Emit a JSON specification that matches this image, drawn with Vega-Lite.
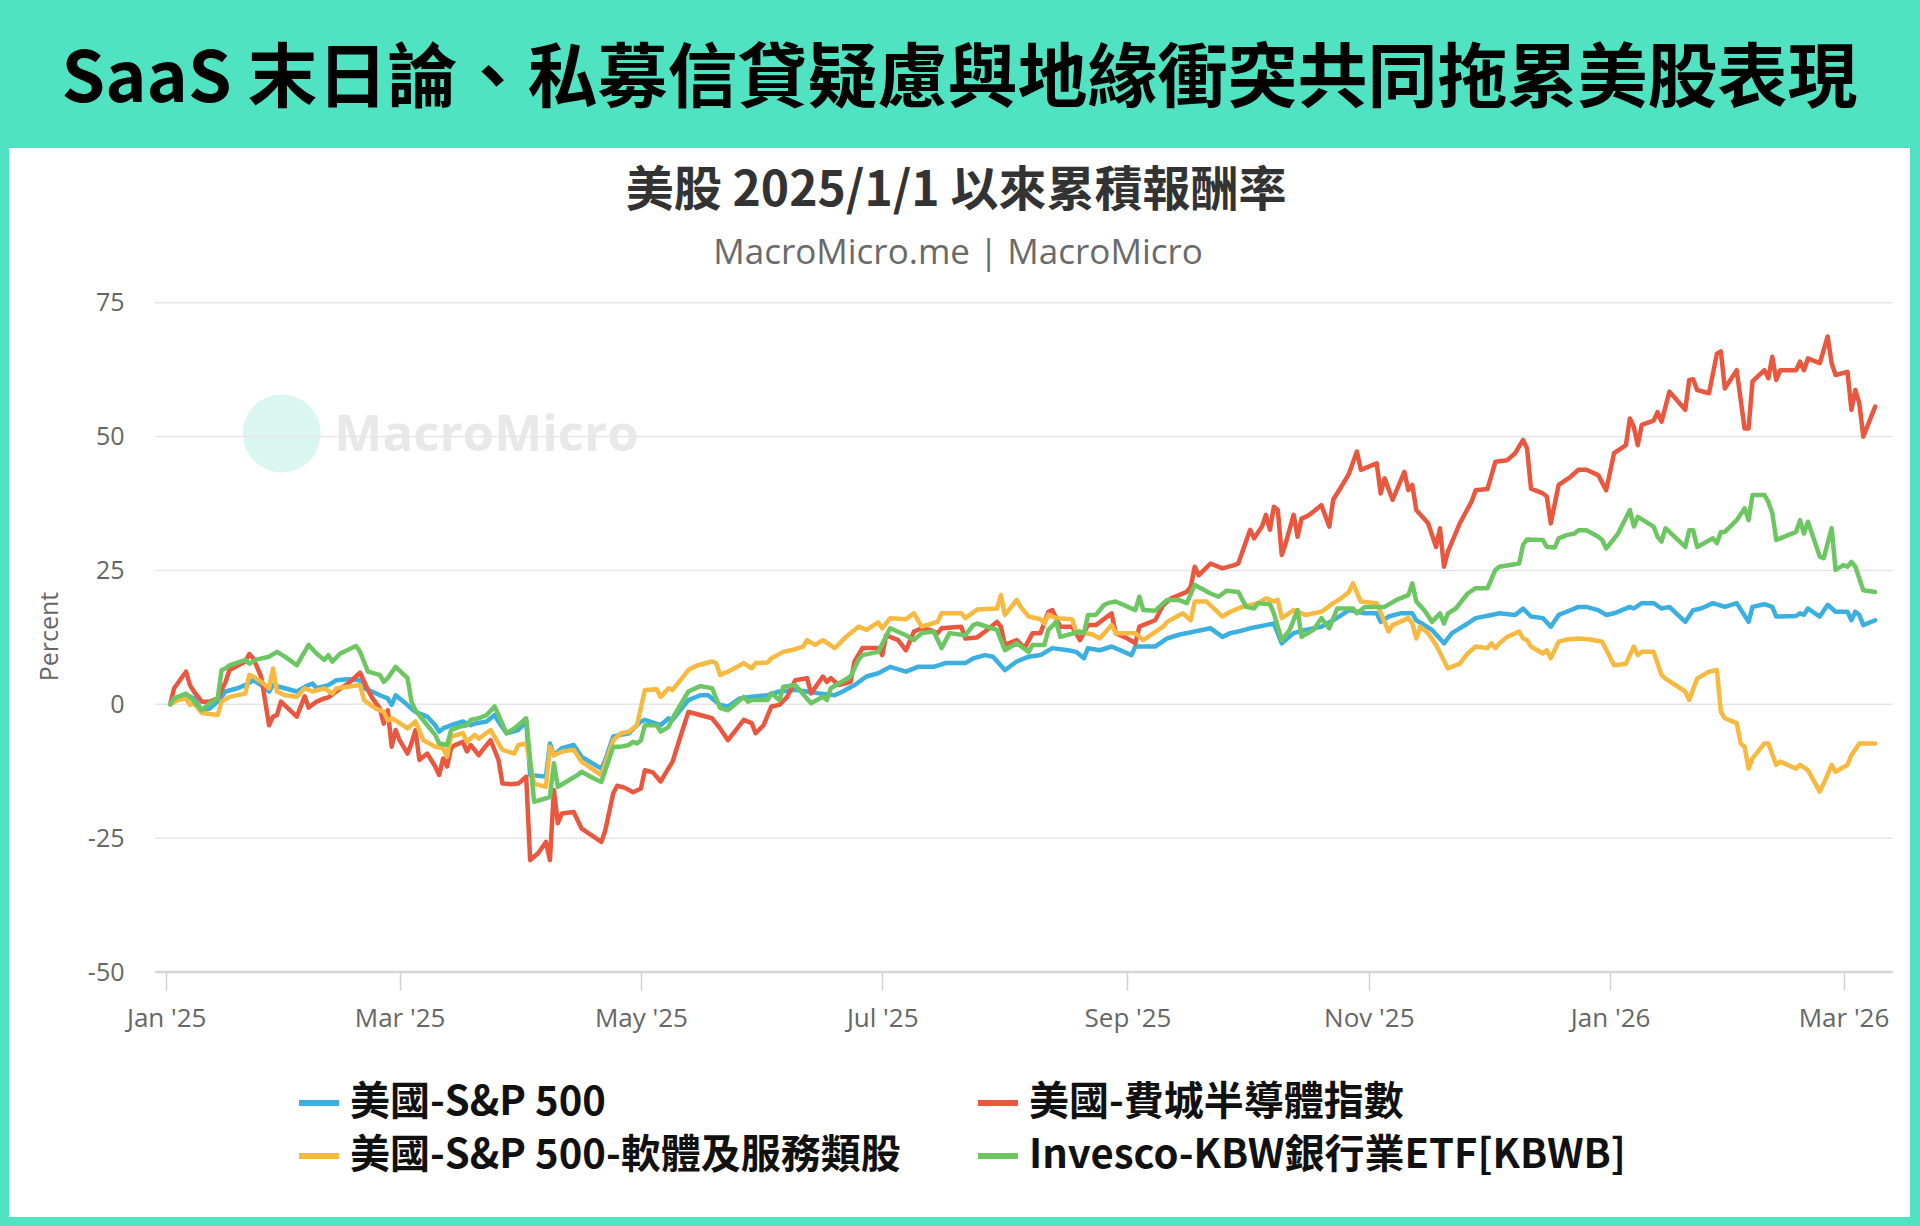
{
"$schema": "https://vega.github.io/schema/vega-lite/v6.json",
"width": 1901,
"height": 1069,
"autosize": {"type": "none"},
"padding": {"left": 9, "right": 10, "top": 148, "bottom": 9},
"background": "#50E3C2",
"title": {"text": "SaaS 末日論、私募信貸疑慮與地緣衝突共同拖累美股表現", "font": "Noto Sans CJK TC", "fontSize": 70, "fontWeight": "bold", "color": "#000000", "anchor": "middle", "frame": "group", "offset": 68, "dy": 71, "baseline": "middle"},
"config": {"view": {"fill": "#ffffff", "stroke": null}, "font": "Open Sans"},
"layer": [
{"data": {"values": [{"k": "logo"}]},
 "mark": {"type": "point", "shape": "circle", "filled": true, "size": 6084, "color": "#D9F7F0", "opacity": 1},
 "encoding": {
  "x": {"datum": {"year": 2025, "month": 1, "date": 30, "hours": 5, "utc": true}, "type": "temporal", "scale": {"type": "utc", "domain": [{"year": 2024, "month": 11, "date": 22, "hours": 6, "minutes": 14, "utc": true}, {"year": 2026, "month": 3, "date": 17, "hours": 19, "minutes": 26, "utc": true}], "nice": false}},
  "y": {"datum": 50.6, "type": "quantitative", "scale": {"domain": [-95.74, 103.9], "nice": false, "zero": false}}
 }},
{"data": {"values": [{"t": "MacroMicro"}]},
 "mark": {"type": "text", "align": "left", "baseline": "middle", "font": "Open Sans", "fontSize": 51, "fontWeight": "bold", "color": "#E8E8E8"},
 "encoding": {
  "x": {"datum": {"year": 2025, "month": 2, "date": 12, "hours": 12, "utc": true}, "type": "temporal", "scale": {"type": "utc", "domain": [{"year": 2024, "month": 11, "date": 22, "hours": 6, "minutes": 14, "utc": true}, {"year": 2026, "month": 3, "date": 17, "hours": 19, "minutes": 26, "utc": true}], "nice": false}},
  "y": {"datum": 50.1, "type": "quantitative", "scale": {"domain": [-95.74, 103.9], "nice": false, "zero": false}},
  "text": {"field": "t"}
 }},
{"data": {"values": [{"g": 75}, {"g": 50}, {"g": 25}, {"g": 0}, {"g": -25}]},
 "mark": {"type": "rule", "color": "#E6E6E6", "strokeWidth": 1.5},
 "encoding": {
  "y": {"field": "g", "type": "quantitative", "scale": {"domain": [-95.74, 103.9], "nice": false, "zero": false}},
  "x": {"datum": {"year": 2024, "month": 12, "date": 29, "hours": 4, "utc": true}, "type": "temporal", "scale": {"type": "utc", "domain": [{"year": 2024, "month": 11, "date": 22, "hours": 6, "minutes": 14, "utc": true}, {"year": 2026, "month": 3, "date": 17, "hours": 19, "minutes": 26, "utc": true}], "nice": false}},
  "x2": {"datum": {"year": 2026, "month": 3, "date": 13, "hours": 12, "utc": true}}
 }},
{"data": {"values": [{"g": -50}]},
 "mark": {"type": "rule", "color": "#D6D6D6", "strokeWidth": 2.5},
 "encoding": {
  "y": {"field": "g", "type": "quantitative", "scale": {"domain": [-95.74, 103.9], "nice": false, "zero": false}},
  "x": {"datum": {"year": 2024, "month": 12, "date": 29, "hours": 4, "utc": true}, "type": "temporal", "scale": {"type": "utc", "domain": [{"year": 2024, "month": 11, "date": 22, "hours": 6, "minutes": 14, "utc": true}, {"year": 2026, "month": 3, "date": 17, "hours": 19, "minutes": 26, "utc": true}], "nice": false}},
  "x2": {"datum": {"year": 2026, "month": 3, "date": 13, "hours": 12, "utc": true}}
 }},
{"data": {"values": [
{"d":"2025-01-02","v":0},{"d":"2025-01-03","v":0.8},{"d":"2025-01-06","v":1.7},{"d":"2025-01-08","v":1.1},{"d":"2025-01-10","v":-1.1},{"d":"2025-01-12","v":-0.8},{"d":"2025-01-14","v":0.5},{"d":"2025-01-16","v":2.4},{"d":"2025-01-19","v":3.0},{"d":"2025-01-21","v":3.6},{"d":"2025-01-23","v":4.5},{"d":"2025-01-25","v":3.6},{"d":"2025-01-27","v":2.4},{"d":"2025-01-28","v":3.6},{"d":"2025-01-31","v":3.0},{"d":"2025-02-03","v":2.4},{"d":"2025-02-06","v":3.6},{"d":"2025-02-07","v":3.9},{"d":"2025-02-08","v":3.0},{"d":"2025-02-11","v":3.6},{"d":"2025-02-13","v":4.5},{"d":"2025-02-16","v":4.7},{"d":"2025-02-19","v":4.5},{"d":"2025-02-20","v":3.0},{"d":"2025-02-22","v":2.4},{"d":"2025-02-24","v":1.7},{"d":"2025-02-26","v":1.1},{"d":"2025-02-27","v":-0.1},{"d":"2025-02-28","v":1.7},{"d":"2025-03-02","v":0.5},{"d":"2025-03-04","v":-0.8},{"d":"2025-03-05","v":-1.4},{"d":"2025-03-08","v":-2.3},{"d":"2025-03-10","v":-3.9},{"d":"2025-03-11","v":-5.1},{"d":"2025-03-12","v":-4.5},{"d":"2025-03-14","v":-3.9},{"d":"2025-03-17","v":-3.2},{"d":"2025-03-19","v":-3.9},{"d":"2025-03-20","v":-3.6},{"d":"2025-03-23","v":-3.2},{"d":"2025-03-25","v":-2.0},{"d":"2025-03-26","v":-3.2},{"d":"2025-03-28","v":-5.4},{"d":"2025-03-31","v":-4.8},{"d":"2025-04-02","v":-3.2},{"d":"2025-04-03","v":-13.2},{"d":"2025-04-07","v":-13.5},{"d":"2025-04-08","v":-7.3},{"d":"2025-04-09","v":-9.5},{"d":"2025-04-11","v":-8.2},{"d":"2025-04-14","v":-7.6},{"d":"2025-04-16","v":-9.8},{"d":"2025-04-21","v":-12.0},{"d":"2025-04-22","v":-10.4},{"d":"2025-04-24","v":-6.0},{"d":"2025-04-26","v":-5.7},{"d":"2025-04-28","v":-5.4},{"d":"2025-05-01","v":-3.2},{"d":"2025-05-02","v":-2.9},{"d":"2025-05-06","v":-3.9},{"d":"2025-05-08","v":-2.6},{"d":"2025-05-09","v":-2.9},{"d":"2025-05-13","v":0.8},{"d":"2025-05-16","v":1.7},{"d":"2025-05-18","v":1.7},{"d":"2025-05-21","v":-0.1},{"d":"2025-05-23","v":-0.4},{"d":"2025-05-26","v":1.1},{"d":"2025-05-29","v":1.4},{"d":"2025-06-02","v":1.7},{"d":"2025-06-05","v":2.4},{"d":"2025-06-09","v":2.7},{"d":"2025-06-12","v":2.4},{"d":"2025-06-15","v":2.05},{"d":"2025-06-19","v":1.7},{"d":"2025-06-21","v":2.4},{"d":"2025-06-24","v":3.6},{"d":"2025-06-27","v":5.2},{"d":"2025-06-30","v":5.8},{"d":"2025-07-03","v":7.0},{"d":"2025-07-07","v":6.1},{"d":"2025-07-10","v":7.0},{"d":"2025-07-14","v":7.0},{"d":"2025-07-17","v":7.7},{"d":"2025-07-22","v":7.7},{"d":"2025-07-24","v":8.6},{"d":"2025-07-27","v":9.2},{"d":"2025-07-29","v":8.9},{"d":"2025-08-01","v":6.4},{"d":"2025-08-04","v":8.0},{"d":"2025-08-07","v":8.9},{"d":"2025-08-10","v":9.2},{"d":"2025-08-13","v":10.5},{"d":"2025-08-17","v":10.1},{"d":"2025-08-19","v":9.8},{"d":"2025-08-21","v":8.6},{"d":"2025-08-22","v":10.5},{"d":"2025-08-25","v":10.1},{"d":"2025-08-28","v":10.8},{"d":"2025-09-02","v":9.2},{"d":"2025-09-03","v":10.8},{"d":"2025-09-08","v":10.8},{"d":"2025-09-11","v":12.3},{"d":"2025-09-14","v":13.0},{"d":"2025-09-18","v":13.6},{"d":"2025-09-22","v":14.2},{"d":"2025-09-25","v":12.6},{"d":"2025-09-27","v":13.3},{"d":"2025-09-29","v":13.6},{"d":"2025-10-02","v":14.2},{"d":"2025-10-06","v":14.8},{"d":"2025-10-08","v":15.1},{"d":"2025-10-10","v":11.4},{"d":"2025-10-13","v":13.3},{"d":"2025-10-16","v":13.9},{"d":"2025-10-20","v":14.5},{"d":"2025-10-23","v":15.7},{"d":"2025-10-27","v":17.6},{"d":"2025-10-31","v":17.0},{"d":"2025-11-03","v":17.0},{"d":"2025-11-04","v":15.4},{"d":"2025-11-06","v":16.4},{"d":"2025-11-09","v":17.0},{"d":"2025-11-12","v":17.0},{"d":"2025-11-13","v":15.7},{"d":"2025-11-17","v":13.9},{"d":"2025-11-20","v":11.4},{"d":"2025-11-22","v":13.3},{"d":"2025-11-26","v":15.1},{"d":"2025-11-28","v":16.1},{"d":"2025-12-02","v":16.7},{"d":"2025-12-04","v":17.0},{"d":"2025-12-08","v":16.7},{"d":"2025-12-10","v":17.9},{"d":"2025-12-12","v":16.4},{"d":"2025-12-15","v":16.1},{"d":"2025-12-17","v":14.5},{"d":"2025-12-19","v":16.7},{"d":"2025-12-21","v":17.3},{"d":"2025-12-24","v":18.2},{"d":"2025-12-26","v":18.2},{"d":"2025-12-29","v":17.6},{"d":"2025-12-31","v":16.7},{"d":"2026-01-02","v":17.0},{"d":"2026-01-06","v":18.2},{"d":"2026-01-07","v":17.9},{"d":"2026-01-09","v":18.9},{"d":"2026-01-12","v":18.9},{"d":"2026-01-14","v":17.9},{"d":"2026-01-16","v":18.2},{"d":"2026-01-20","v":15.4},{"d":"2026-01-22","v":17.6},{"d":"2026-01-24","v":17.9},{"d":"2026-01-27","v":18.9},{"d":"2026-01-30","v":18.2},{"d":"2026-02-02","v":18.9},{"d":"2026-02-05","v":15.4},{"d":"2026-02-06","v":18.2},{"d":"2026-02-09","v":18.7},{"d":"2026-02-11","v":18.2},{"d":"2026-02-12","v":16.4},{"d":"2026-02-17","v":16.5},{"d":"2026-02-18","v":17.0},{"d":"2026-02-19","v":16.7},{"d":"2026-02-20","v":17.9},{"d":"2026-02-23","v":16.4},{"d":"2026-02-25","v":18.6},{"d":"2026-02-27","v":17.3},{"d":"2026-03-02","v":17.3},{"d":"2026-03-03","v":15.7},{"d":"2026-03-04","v":17.3},{"d":"2026-03-05","v":16.7},{"d":"2026-03-06","v":14.8},{"d":"2026-03-09","v":15.7}
 ]},
 "mark": {"type": "line", "strokeWidth": 4.5, "strokeJoin": "round", "strokeCap": "round"},
 "encoding": {
  "x": {"field": "d", "type": "temporal", "scale": {"type": "utc", "domain": [{"year": 2024, "month": 11, "date": 22, "hours": 6, "minutes": 14, "utc": true}, {"year": 2026, "month": 3, "date": 17, "hours": 19, "minutes": 26, "utc": true}], "nice": false},
   "axis": {"orient": "bottom", "offset": -245, "values": [{"year": 2025, "month": 1, "date": 1, "utc": true}, {"year": 2025, "month": 3, "date": 1, "utc": true}, {"year": 2025, "month": 5, "date": 1, "utc": true}, {"year": 2025, "month": 7, "date": 1, "utc": true}, {"year": 2025, "month": 9, "date": 1, "utc": true}, {"year": 2025, "month": 11, "date": 1, "utc": true}, {"year": 2026, "month": 1, "date": 1, "utc": true}, {"year": 2026, "month": 3, "date": 1, "utc": true}], "format": "%b '%y", "grid": false, "domain": false, "ticks": true, "tickSize": 18, "tickColor": "#D0D0D0", "tickWidth": 1.5, "labelPadding": 15, "labelFont": "Open Sans", "labelFontSize": 26, "labelColor": "#666666", "labelFlush": false, "labelOverlap": false, "title": null}},
  "y": {"field": "v", "type": "quantitative", "scale": {"domain": [-95.74, 103.9], "nice": false, "zero": false},
   "axis": {"orient": "left", "offset": -146, "values": [-50, -25, 0, 25, 50, 75], "labelExpr": "'' + datum.value", "grid": false, "domain": false, "ticks": false, "labelPadding": 31, "labelFont": "Open Sans", "labelFontSize": 25, "labelColor": "#666666", "title": "Percent", "titleFont": "Open Sans", "titleFontSize": 25, "titleFontWeight": "normal", "titleColor": "#666666", "titleX": -106, "titleY": 488, "titleAlign": "center", "titleBaseline": "middle", "titleAngle": 270}},
  "color": {"datum": "美國-S&P 500", "type": "nominal",
   "scale": {"domain": ["美國-S&P 500", "美國-費城半導體指數", "美國-S&P 500-軟體及服務類股", "Invesco-KBW銀行業ETF[KBWB]"], "range": ["#3BAFDF", "#E9573F", "#F7B93F", "#6CC763"]},
   "legend": {"orient": "none", "legendX": 287, "legendY": 932, "title": null, "columns": 2, "direction": "horizontal", "symbolType": "stroke", "symbolSize": 1600, "symbolStrokeWidth": 6, "labelFont": "Noto Sans CJK TC", "labelFontSize": 40, "labelFontWeight": "bold", "labelColor": "#111111", "labelOffset": 8, "columnPadding": 66, "rowPadding": 10, "padding": 0, "labelLimit": 900}}
 }},
{"data": {"values": [
{"d":"2025-01-02","v":0},{"d":"2025-01-03","v":3.0},{"d":"2025-01-06","v":6.1},{"d":"2025-01-07","v":3.6},{"d":"2025-01-08","v":2.4},{"d":"2025-01-10","v":0.5},{"d":"2025-01-12","v":0.5},{"d":"2025-01-14","v":1.1},{"d":"2025-01-16","v":4.2},{"d":"2025-01-17","v":6.4},{"d":"2025-01-21","v":8.0},{"d":"2025-01-22","v":9.4},{"d":"2025-01-23","v":8.6},{"d":"2025-01-25","v":5.2},{"d":"2025-01-27","v":-3.9},{"d":"2025-01-28","v":-2.3},{"d":"2025-01-29","v":-2.0},{"d":"2025-01-30","v":0.5},{"d":"2025-02-03","v":-2.3},{"d":"2025-02-05","v":1.5},{"d":"2025-02-06","v":-0.6},{"d":"2025-02-08","v":0.5},{"d":"2025-02-10","v":1.1},{"d":"2025-02-11","v":1.3},{"d":"2025-02-13","v":2.4},{"d":"2025-02-16","v":3.9},{"d":"2025-02-19","v":5.9},{"d":"2025-02-21","v":2.7},{"d":"2025-02-22","v":1.3},{"d":"2025-02-24","v":-0.8},{"d":"2025-02-25","v":-3.6},{"d":"2025-02-26","v":-1.1},{"d":"2025-02-27","v":-7.9},{"d":"2025-02-28","v":-4.8},{"d":"2025-03-01","v":-6.7},{"d":"2025-03-03","v":-9.2},{"d":"2025-03-04","v":-7.3},{"d":"2025-03-05","v":-4.8},{"d":"2025-03-06","v":-10.4},{"d":"2025-03-08","v":-9.2},{"d":"2025-03-10","v":-11.6},{"d":"2025-03-11","v":-13.2},{"d":"2025-03-12","v":-10.1},{"d":"2025-03-13","v":-11.6},{"d":"2025-03-14","v":-8.2},{"d":"2025-03-15","v":-7.6},{"d":"2025-03-17","v":-7.0},{"d":"2025-03-18","v":-8.8},{"d":"2025-03-19","v":-7.6},{"d":"2025-03-21","v":-9.5},{"d":"2025-03-22","v":-8.5},{"d":"2025-03-24","v":-6.7},{"d":"2025-03-26","v":-10.4},{"d":"2025-03-27","v":-14.8},{"d":"2025-03-29","v":-14.9},{"d":"2025-03-31","v":-14.8},{"d":"2025-04-02","v":-13.5},{"d":"2025-04-03","v":-29.1},{"d":"2025-04-05","v":-27.8},{"d":"2025-04-07","v":-25.7},{"d":"2025-04-08","v":-29.1},{"d":"2025-04-09","v":-16.0},{"d":"2025-04-10","v":-22.2},{"d":"2025-04-11","v":-20.4},{"d":"2025-04-14","v":-20.1},{"d":"2025-04-16","v":-23.2},{"d":"2025-04-21","v":-25.7},{"d":"2025-04-22","v":-23.5},{"d":"2025-04-24","v":-16.6},{"d":"2025-04-25","v":-15.2},{"d":"2025-04-27","v":-15.6},{"d":"2025-04-29","v":-16.4},{"d":"2025-05-01","v":-15.7},{"d":"2025-05-02","v":-12.3},{"d":"2025-05-04","v":-12.7},{"d":"2025-05-06","v":-14.4},{"d":"2025-05-08","v":-11.9},{"d":"2025-05-09","v":-10.7},{"d":"2025-05-11","v":-6.0},{"d":"2025-05-13","v":-1.4},{"d":"2025-05-15","v":-1.8},{"d":"2025-05-19","v":-2.6},{"d":"2025-05-21","v":-4.5},{"d":"2025-05-23","v":-6.7},{"d":"2025-05-25","v":-4.8},{"d":"2025-05-27","v":-2.9},{"d":"2025-05-29","v":-3.5},{"d":"2025-05-30","v":-5.4},{"d":"2025-06-01","v":-3.9},{"d":"2025-06-03","v":-0.4},{"d":"2025-06-05","v":-0.1},{"d":"2025-06-07","v":1.4},{"d":"2025-06-09","v":4.5},{"d":"2025-06-12","v":4.9},{"d":"2025-06-13","v":2.05},{"d":"2025-06-16","v":5.2},{"d":"2025-06-17","v":4.2},{"d":"2025-06-18","v":4.9},{"d":"2025-06-20","v":3.6},{"d":"2025-06-23","v":4.2},{"d":"2025-06-24","v":8.0},{"d":"2025-06-26","v":10.5},{"d":"2025-06-30","v":10.5},{"d":"2025-07-01","v":9.2},{"d":"2025-07-02","v":12.9},{"d":"2025-07-05","v":12.0},{"d":"2025-07-07","v":10.1},{"d":"2025-07-09","v":13.6},{"d":"2025-07-11","v":14.2},{"d":"2025-07-13","v":13.9},{"d":"2025-07-15","v":13.3},{"d":"2025-07-16","v":14.2},{"d":"2025-07-21","v":14.5},{"d":"2025-07-22","v":12.3},{"d":"2025-07-25","v":12.5},{"d":"2025-07-27","v":13.6},{"d":"2025-07-30","v":15.4},{"d":"2025-07-31","v":14.5},{"d":"2025-08-01","v":11.1},{"d":"2025-08-04","v":12.0},{"d":"2025-08-06","v":10.5},{"d":"2025-08-08","v":13.3},{"d":"2025-08-10","v":13.3},{"d":"2025-08-12","v":17.3},{"d":"2025-08-13","v":17.6},{"d":"2025-08-15","v":14.5},{"d":"2025-08-18","v":14.5},{"d":"2025-08-20","v":12.0},{"d":"2025-08-22","v":14.8},{"d":"2025-08-24","v":14.8},{"d":"2025-08-28","v":17.0},{"d":"2025-08-29","v":13.3},{"d":"2025-09-01","v":12.3},{"d":"2025-09-03","v":11.4},{"d":"2025-09-04","v":14.5},{"d":"2025-09-08","v":15.7},{"d":"2025-09-10","v":18.5},{"d":"2025-09-12","v":19.8},{"d":"2025-09-16","v":21.0},{"d":"2025-09-17","v":22.0},{"d":"2025-09-18","v":25.7},{"d":"2025-09-19","v":24.1},{"d":"2025-09-22","v":26.3},{"d":"2025-09-25","v":25.4},{"d":"2025-09-28","v":26.0},{"d":"2025-09-29","v":26.3},{"d":"2025-10-02","v":32.6},{"d":"2025-10-03","v":31.0},{"d":"2025-10-05","v":33.2},{"d":"2025-10-06","v":35.4},{"d":"2025-10-07","v":32.6},{"d":"2025-10-08","v":36.9},{"d":"2025-10-09","v":36.3},{"d":"2025-10-10","v":27.9},{"d":"2025-10-11","v":30.1},{"d":"2025-10-13","v":35.4},{"d":"2025-10-14","v":31.3},{"d":"2025-10-15","v":34.7},{"d":"2025-10-16","v":35.0},{"d":"2025-10-17","v":35.4},{"d":"2025-10-20","v":37.2},{"d":"2025-10-22","v":33.2},{"d":"2025-10-23","v":38.2},{"d":"2025-10-25","v":40.6},{"d":"2025-10-27","v":43.1},{"d":"2025-10-29","v":47.2},{"d":"2025-10-30","v":43.8},{"d":"2025-11-03","v":45.0},{"d":"2025-11-04","v":39.4},{"d":"2025-11-05","v":42.2},{"d":"2025-11-07","v":38.2},{"d":"2025-11-10","v":43.4},{"d":"2025-11-11","v":40.0},{"d":"2025-11-12","v":41.0},{"d":"2025-11-13","v":36.3},{"d":"2025-11-16","v":33.8},{"d":"2025-11-18","v":29.4},{"d":"2025-11-19","v":32.9},{"d":"2025-11-20","v":25.7},{"d":"2025-11-21","v":28.5},{"d":"2025-11-24","v":33.8},{"d":"2025-11-27","v":37.9},{"d":"2025-11-28","v":40.0},{"d":"2025-12-01","v":40.2},{"d":"2025-12-03","v":45.3},{"d":"2025-12-06","v":45.6},{"d":"2025-12-08","v":46.9},{"d":"2025-12-10","v":49.4},{"d":"2025-12-11","v":47.8},{"d":"2025-12-12","v":40.3},{"d":"2025-12-15","v":39.4},{"d":"2025-12-16","v":38.8},{"d":"2025-12-17","v":33.8},{"d":"2025-12-19","v":41.0},{"d":"2025-12-22","v":42.5},{"d":"2025-12-24","v":43.8},{"d":"2025-12-26","v":43.8},{"d":"2025-12-29","v":42.8},{"d":"2025-12-31","v":40.0},{"d":"2026-01-02","v":46.9},{"d":"2026-01-05","v":48.4},{"d":"2026-01-06","v":53.4},{"d":"2026-01-07","v":51.8},{"d":"2026-01-08","v":48.4},{"d":"2026-01-09","v":52.2},{"d":"2026-01-12","v":53.0},{"d":"2026-01-13","v":54.6},{"d":"2026-01-14","v":52.8},{"d":"2026-01-16","v":58.4},{"d":"2026-01-20","v":55.0},{"d":"2026-01-21","v":60.6},{"d":"2026-01-22","v":60.7},{"d":"2026-01-23","v":58.7},{"d":"2026-01-26","v":58.1},{"d":"2026-01-28","v":65.5},{"d":"2026-01-29","v":65.9},{"d":"2026-01-30","v":59.0},{"d":"2026-02-02","v":62.4},{"d":"2026-02-04","v":51.5},{"d":"2026-02-05","v":51.5},{"d":"2026-02-06","v":60.3},{"d":"2026-02-09","v":62.4},{"d":"2026-02-10","v":60.9},{"d":"2026-02-11","v":64.9},{"d":"2026-02-12","v":60.6},{"d":"2026-02-13","v":62.4},{"d":"2026-02-17","v":62.4},{"d":"2026-02-18","v":64.0},{"d":"2026-02-19","v":62.4},{"d":"2026-02-20","v":64.6},{"d":"2026-02-23","v":63.7},{"d":"2026-02-25","v":68.7},{"d":"2026-02-26","v":63.7},{"d":"2026-02-27","v":61.5},{"d":"2026-03-02","v":62.1},{"d":"2026-03-03","v":55.0},{"d":"2026-03-04","v":58.7},{"d":"2026-03-05","v":56.2},{"d":"2026-03-06","v":50.0},{"d":"2026-03-09","v":55.6}
 ]},
 "mark": {"type": "line", "strokeWidth": 4.5, "strokeJoin": "round", "strokeCap": "round"},
 "encoding": {
  "x": {"field": "d", "type": "temporal", "scale": {"type": "utc", "domain": [{"year": 2024, "month": 11, "date": 22, "hours": 6, "minutes": 14, "utc": true}, {"year": 2026, "month": 3, "date": 17, "hours": 19, "minutes": 26, "utc": true}], "nice": false}},
  "y": {"field": "v", "type": "quantitative", "scale": {"domain": [-95.74, 103.9], "nice": false, "zero": false}},
  "color": {"datum": "美國-費城半導體指數", "type": "nominal", "scale": {"domain": ["美國-S&P 500", "美國-費城半導體指數", "美國-S&P 500-軟體及服務類股", "Invesco-KBW銀行業ETF[KBWB]"], "range": ["#3BAFDF", "#E9573F", "#F7B93F", "#6CC763"]}}
 }},
{"data": {"values": [
{"d":"2025-01-02","v":0},{"d":"2025-01-04","v":0.8},{"d":"2025-01-06","v":1.1},{"d":"2025-01-07","v":-0.1},{"d":"2025-01-08","v":0.2},{"d":"2025-01-10","v":-1.6},{"d":"2025-01-14","v":-2.0},{"d":"2025-01-15","v":0.5},{"d":"2025-01-17","v":1.4},{"d":"2025-01-21","v":2.0},{"d":"2025-01-22","v":5.5},{"d":"2025-01-23","v":5.2},{"d":"2025-01-25","v":4.2},{"d":"2025-01-27","v":3.0},{"d":"2025-01-28","v":6.7},{"d":"2025-01-29","v":2.4},{"d":"2025-01-31","v":1.7},{"d":"2025-02-03","v":1.4},{"d":"2025-02-05","v":3.0},{"d":"2025-02-07","v":2.4},{"d":"2025-02-10","v":3.0},{"d":"2025-02-12","v":2.0},{"d":"2025-02-13","v":3.0},{"d":"2025-02-16","v":3.3},{"d":"2025-02-19","v":3.6},{"d":"2025-02-20","v":0.8},{"d":"2025-02-23","v":-0.8},{"d":"2025-02-25","v":-1.4},{"d":"2025-02-26","v":-3.0},{"d":"2025-02-27","v":-2.6},{"d":"2025-02-28","v":-3.0},{"d":"2025-03-03","v":-4.5},{"d":"2025-03-05","v":-3.2},{"d":"2025-03-07","v":-6.7},{"d":"2025-03-10","v":-7.9},{"d":"2025-03-12","v":-8.2},{"d":"2025-03-13","v":-9.8},{"d":"2025-03-14","v":-6.0},{"d":"2025-03-17","v":-5.4},{"d":"2025-03-18","v":-7.0},{"d":"2025-03-20","v":-5.7},{"d":"2025-03-21","v":-6.4},{"d":"2025-03-24","v":-4.8},{"d":"2025-03-27","v":-8.5},{"d":"2025-03-30","v":-9.2},{"d":"2025-03-31","v":-7.6},{"d":"2025-04-02","v":-7.3},{"d":"2025-04-04","v":-14.8},{"d":"2025-04-07","v":-15.4},{"d":"2025-04-08","v":-7.9},{"d":"2025-04-09","v":-9.5},{"d":"2025-04-11","v":-8.8},{"d":"2025-04-14","v":-8.5},{"d":"2025-04-16","v":-10.7},{"d":"2025-04-21","v":-13.2},{"d":"2025-04-24","v":-6.7},{"d":"2025-04-26","v":-5.4},{"d":"2025-04-28","v":-5.1},{"d":"2025-04-30","v":-3.9},{"d":"2025-05-02","v":2.7},{"d":"2025-05-05","v":2.8},{"d":"2025-05-06","v":1.4},{"d":"2025-05-08","v":3.0},{"d":"2025-05-09","v":2.7},{"d":"2025-05-13","v":6.4},{"d":"2025-05-15","v":7.2},{"d":"2025-05-19","v":8.0},{"d":"2025-05-20","v":7.7},{"d":"2025-05-21","v":5.5},{"d":"2025-05-23","v":6.1},{"d":"2025-05-27","v":7.7},{"d":"2025-05-29","v":6.7},{"d":"2025-05-30","v":7.7},{"d":"2025-06-02","v":7.8},{"d":"2025-06-03","v":8.6},{"d":"2025-06-06","v":9.8},{"d":"2025-06-09","v":10.3},{"d":"2025-06-11","v":10.8},{"d":"2025-06-12","v":12.0},{"d":"2025-06-14","v":11.1},{"d":"2025-06-16","v":12.0},{"d":"2025-06-19","v":10.5},{"d":"2025-06-22","v":12.7},{"d":"2025-06-24","v":13.9},{"d":"2025-06-25","v":14.5},{"d":"2025-06-27","v":13.9},{"d":"2025-06-30","v":15.3},{"d":"2025-07-01","v":14.2},{"d":"2025-07-03","v":16.1},{"d":"2025-07-07","v":15.9},{"d":"2025-07-09","v":17.0},{"d":"2025-07-11","v":14.5},{"d":"2025-07-15","v":15.4},{"d":"2025-07-16","v":17.0},{"d":"2025-07-21","v":17.0},{"d":"2025-07-22","v":16.1},{"d":"2025-07-25","v":17.7},{"d":"2025-07-30","v":17.9},{"d":"2025-07-31","v":20.4},{"d":"2025-08-01","v":16.7},{"d":"2025-08-04","v":19.5},{"d":"2025-08-05","v":18.2},{"d":"2025-08-07","v":16.4},{"d":"2025-08-10","v":15.9},{"d":"2025-08-11","v":15.1},{"d":"2025-08-12","v":16.7},{"d":"2025-08-14","v":16.1},{"d":"2025-08-18","v":15.9},{"d":"2025-08-19","v":13.6},{"d":"2025-08-23","v":13.1},{"d":"2025-08-25","v":12.3},{"d":"2025-08-28","v":14.8},{"d":"2025-08-29","v":13.3},{"d":"2025-09-01","v":13.3},{"d":"2025-09-03","v":13.3},{"d":"2025-09-05","v":12.0},{"d":"2025-09-10","v":14.5},{"d":"2025-09-11","v":15.4},{"d":"2025-09-15","v":17.0},{"d":"2025-09-17","v":15.7},{"d":"2025-09-18","v":19.2},{"d":"2025-09-21","v":19.2},{"d":"2025-09-25","v":16.4},{"d":"2025-09-27","v":17.3},{"d":"2025-09-30","v":18.2},{"d":"2025-10-04","v":18.9},{"d":"2025-10-06","v":19.8},{"d":"2025-10-08","v":19.2},{"d":"2025-10-09","v":19.5},{"d":"2025-10-10","v":16.1},{"d":"2025-10-13","v":17.6},{"d":"2025-10-16","v":16.7},{"d":"2025-10-20","v":17.3},{"d":"2025-10-23","v":18.9},{"d":"2025-10-25","v":19.8},{"d":"2025-10-27","v":21.0},{"d":"2025-10-28","v":22.6},{"d":"2025-10-30","v":19.2},{"d":"2025-11-03","v":18.9},{"d":"2025-11-06","v":13.6},{"d":"2025-11-07","v":14.8},{"d":"2025-11-11","v":16.1},{"d":"2025-11-12","v":15.1},{"d":"2025-11-13","v":12.3},{"d":"2025-11-14","v":14.5},{"d":"2025-11-16","v":13.3},{"d":"2025-11-18","v":11.1},{"d":"2025-11-21","v":6.7},{"d":"2025-11-24","v":7.6},{"d":"2025-11-26","v":9.5},{"d":"2025-11-28","v":10.8},{"d":"2025-12-01","v":10.5},{"d":"2025-12-02","v":11.4},{"d":"2025-12-03","v":10.5},{"d":"2025-12-04","v":11.4},{"d":"2025-12-06","v":12.6},{"d":"2025-12-09","v":13.6},{"d":"2025-12-10","v":12.3},{"d":"2025-12-11","v":12.0},{"d":"2025-12-12","v":10.8},{"d":"2025-12-15","v":9.5},{"d":"2025-12-16","v":10.1},{"d":"2025-12-17","v":8.6},{"d":"2025-12-19","v":11.7},{"d":"2025-12-21","v":12.1},{"d":"2025-12-24","v":12.3},{"d":"2025-12-27","v":12.1},{"d":"2025-12-30","v":11.7},{"d":"2026-01-02","v":7.3},{"d":"2026-01-05","v":7.6},{"d":"2026-01-07","v":10.8},{"d":"2026-01-08","v":9.2},{"d":"2026-01-09","v":9.8},{"d":"2026-01-12","v":9.8},{"d":"2026-01-14","v":5.5},{"d":"2026-01-15","v":4.8},{"d":"2026-01-20","v":2.4},{"d":"2026-01-21","v":0.8},{"d":"2026-01-23","v":4.8},{"d":"2026-01-26","v":6.1},{"d":"2026-01-28","v":6.4},{"d":"2026-01-29","v":-1.4},{"d":"2026-01-30","v":-2.6},{"d":"2026-02-02","v":-3.5},{"d":"2026-02-03","v":-7.3},{"d":"2026-02-04","v":-7.9},{"d":"2026-02-05","v":-12.0},{"d":"2026-02-06","v":-10.1},{"d":"2026-02-09","v":-7.3},{"d":"2026-02-10","v":-7.3},{"d":"2026-02-12","v":-11.3},{"d":"2026-02-13","v":-10.7},{"d":"2026-02-17","v":-12.0},{"d":"2026-02-18","v":-11.3},{"d":"2026-02-20","v":-12.3},{"d":"2026-02-23","v":-16.3},{"d":"2026-02-24","v":-14.8},{"d":"2026-02-26","v":-11.3},{"d":"2026-02-27","v":-12.6},{"d":"2026-03-02","v":-11.3},{"d":"2026-03-03","v":-9.5},{"d":"2026-03-05","v":-7.3},{"d":"2026-03-09","v":-7.3}
 ]},
 "mark": {"type": "line", "strokeWidth": 4.5, "strokeJoin": "round", "strokeCap": "round"},
 "encoding": {
  "x": {"field": "d", "type": "temporal", "scale": {"type": "utc", "domain": [{"year": 2024, "month": 11, "date": 22, "hours": 6, "minutes": 14, "utc": true}, {"year": 2026, "month": 3, "date": 17, "hours": 19, "minutes": 26, "utc": true}], "nice": false}},
  "y": {"field": "v", "type": "quantitative", "scale": {"domain": [-95.74, 103.9], "nice": false, "zero": false}},
  "color": {"datum": "美國-S&P 500-軟體及服務類股", "type": "nominal", "scale": {"domain": ["美國-S&P 500", "美國-費城半導體指數", "美國-S&P 500-軟體及服務類股", "Invesco-KBW銀行業ETF[KBWB]"], "range": ["#3BAFDF", "#E9573F", "#F7B93F", "#6CC763"]}}
 }},
{"data": {"values": [
{"d":"2025-01-02","v":0},{"d":"2025-01-03","v":1.1},{"d":"2025-01-06","v":2.0},{"d":"2025-01-07","v":1.4},{"d":"2025-01-10","v":-1.1},{"d":"2025-01-12","v":0.2},{"d":"2025-01-14","v":1.1},{"d":"2025-01-15","v":6.4},{"d":"2025-01-16","v":6.7},{"d":"2025-01-17","v":7.3},{"d":"2025-01-21","v":8.3},{"d":"2025-01-22","v":7.6},{"d":"2025-01-24","v":8.4},{"d":"2025-01-27","v":8.9},{"d":"2025-01-29","v":9.8},{"d":"2025-01-31","v":8.9},{"d":"2025-02-03","v":7.3},{"d":"2025-02-06","v":11.1},{"d":"2025-02-08","v":9.5},{"d":"2025-02-10","v":8.3},{"d":"2025-02-11","v":9.2},{"d":"2025-02-12","v":8.0},{"d":"2025-02-14","v":9.5},{"d":"2025-02-18","v":10.9},{"d":"2025-02-19","v":9.8},{"d":"2025-02-21","v":6.1},{"d":"2025-02-24","v":5.5},{"d":"2025-02-25","v":4.2},{"d":"2025-02-26","v":4.9},{"d":"2025-02-28","v":7.0},{"d":"2025-03-03","v":4.9},{"d":"2025-03-04","v":0.5},{"d":"2025-03-05","v":-1.1},{"d":"2025-03-08","v":-3.9},{"d":"2025-03-10","v":-5.7},{"d":"2025-03-11","v":-7.3},{"d":"2025-03-13","v":-7.6},{"d":"2025-03-14","v":-4.8},{"d":"2025-03-16","v":-4.2},{"d":"2025-03-18","v":-3.9},{"d":"2025-03-19","v":-2.9},{"d":"2025-03-21","v":-2.6},{"d":"2025-03-23","v":-2.0},{"d":"2025-03-25","v":-0.4},{"d":"2025-03-26","v":-2.0},{"d":"2025-03-28","v":-5.4},{"d":"2025-03-30","v":-4.5},{"d":"2025-03-31","v":-3.9},{"d":"2025-04-02","v":-2.6},{"d":"2025-04-04","v":-18.2},{"d":"2025-04-08","v":-17.3},{"d":"2025-04-09","v":-11.0},{"d":"2025-04-10","v":-15.4},{"d":"2025-04-15","v":-13.2},{"d":"2025-04-16","v":-12.6},{"d":"2025-04-19","v":-13.8},{"d":"2025-04-21","v":-14.5},{"d":"2025-04-24","v":-7.9},{"d":"2025-04-26","v":-7.9},{"d":"2025-04-28","v":-7.6},{"d":"2025-04-29","v":-7.0},{"d":"2025-04-30","v":-7.3},{"d":"2025-05-01","v":-6.7},{"d":"2025-05-02","v":-3.9},{"d":"2025-05-05","v":-3.9},{"d":"2025-05-06","v":-5.1},{"d":"2025-05-08","v":-4.2},{"d":"2025-05-09","v":-2.6},{"d":"2025-05-13","v":2.4},{"d":"2025-05-16","v":3.4},{"d":"2025-05-19","v":3.0},{"d":"2025-05-21","v":-0.7},{"d":"2025-05-23","v":-1.1},{"d":"2025-05-27","v":1.4},{"d":"2025-05-28","v":0.5},{"d":"2025-05-29","v":0.8},{"d":"2025-06-02","v":0.8},{"d":"2025-06-03","v":2.05},{"d":"2025-06-05","v":0.8},{"d":"2025-06-06","v":3.3},{"d":"2025-06-09","v":3.6},{"d":"2025-06-13","v":0.2},{"d":"2025-06-16","v":1.4},{"d":"2025-06-17","v":0.8},{"d":"2025-06-18","v":3.0},{"d":"2025-06-23","v":5.2},{"d":"2025-06-25","v":8.3},{"d":"2025-06-26","v":9.2},{"d":"2025-06-30","v":9.8},{"d":"2025-07-03","v":14.2},{"d":"2025-07-07","v":12.9},{"d":"2025-07-09","v":12.0},{"d":"2025-07-11","v":13.3},{"d":"2025-07-14","v":13.6},{"d":"2025-07-16","v":10.5},{"d":"2025-07-18","v":13.3},{"d":"2025-07-22","v":12.9},{"d":"2025-07-24","v":14.8},{"d":"2025-07-25","v":15.1},{"d":"2025-07-30","v":13.9},{"d":"2025-08-01","v":10.1},{"d":"2025-08-04","v":11.4},{"d":"2025-08-07","v":9.8},{"d":"2025-08-08","v":11.1},{"d":"2025-08-11","v":11.1},{"d":"2025-08-12","v":13.9},{"d":"2025-08-14","v":15.4},{"d":"2025-08-15","v":12.6},{"d":"2025-08-20","v":13.6},{"d":"2025-08-21","v":13.3},{"d":"2025-08-22","v":16.7},{"d":"2025-08-24","v":16.7},{"d":"2025-08-26","v":18.5},{"d":"2025-08-27","v":18.9},{"d":"2025-08-29","v":19.2},{"d":"2025-09-03","v":17.6},{"d":"2025-09-04","v":20.1},{"d":"2025-09-05","v":17.6},{"d":"2025-09-08","v":17.5},{"d":"2025-09-11","v":19.5},{"d":"2025-09-14","v":19.5},{"d":"2025-09-16","v":18.9},{"d":"2025-09-18","v":22.3},{"d":"2025-09-22","v":20.7},{"d":"2025-09-24","v":20.1},{"d":"2025-09-26","v":21.2},{"d":"2025-09-29","v":21.0},{"d":"2025-10-01","v":18.2},{"d":"2025-10-03","v":17.9},{"d":"2025-10-04","v":18.9},{"d":"2025-10-07","v":18.7},{"d":"2025-10-08","v":17.0},{"d":"2025-10-10","v":12.0},{"d":"2025-10-12","v":13.9},{"d":"2025-10-14","v":17.6},{"d":"2025-10-15","v":12.6},{"d":"2025-10-18","v":13.9},{"d":"2025-10-20","v":16.1},{"d":"2025-10-22","v":14.2},{"d":"2025-10-24","v":17.9},{"d":"2025-10-28","v":17.9},{"d":"2025-10-29","v":17.0},{"d":"2025-10-31","v":18.2},{"d":"2025-11-05","v":18.2},{"d":"2025-11-08","v":19.5},{"d":"2025-11-11","v":20.4},{"d":"2025-11-12","v":22.6},{"d":"2025-11-13","v":19.2},{"d":"2025-11-15","v":17.6},{"d":"2025-11-17","v":15.4},{"d":"2025-11-19","v":17.0},{"d":"2025-11-20","v":15.1},{"d":"2025-11-21","v":17.0},{"d":"2025-11-23","v":17.9},{"d":"2025-11-26","v":20.7},{"d":"2025-11-28","v":21.7},{"d":"2025-12-01","v":21.7},{"d":"2025-12-03","v":25.1},{"d":"2025-12-04","v":25.7},{"d":"2025-12-09","v":26.3},{"d":"2025-12-10","v":29.8},{"d":"2025-12-11","v":30.8},{"d":"2025-12-15","v":30.7},{"d":"2025-12-16","v":29.4},{"d":"2025-12-18","v":29.3},{"d":"2025-12-19","v":31.0},{"d":"2025-12-21","v":31.6},{"d":"2025-12-23","v":31.9},{"d":"2025-12-24","v":32.5},{"d":"2025-12-26","v":32.5},{"d":"2025-12-29","v":31.3},{"d":"2025-12-30","v":30.7},{"d":"2025-12-31","v":29.1},{"d":"2026-01-03","v":31.9},{"d":"2026-01-06","v":36.3},{"d":"2026-01-07","v":33.2},{"d":"2026-01-08","v":35.0},{"d":"2026-01-12","v":33.2},{"d":"2026-01-13","v":31.3},{"d":"2026-01-14","v":30.4},{"d":"2026-01-15","v":32.9},{"d":"2026-01-20","v":29.4},{"d":"2026-01-21","v":32.5},{"d":"2026-01-22","v":32.5},{"d":"2026-01-23","v":29.4},{"d":"2026-01-27","v":31.0},{"d":"2026-01-28","v":30.1},{"d":"2026-01-29","v":32.2},{"d":"2026-01-30","v":32.2},{"d":"2026-02-02","v":34.4},{"d":"2026-02-04","v":36.6},{"d":"2026-02-05","v":34.4},{"d":"2026-02-06","v":39.1},{"d":"2026-02-09","v":39.1},{"d":"2026-02-10","v":37.8},{"d":"2026-02-11","v":35.7},{"d":"2026-02-12","v":30.7},{"d":"2026-02-17","v":32.2},{"d":"2026-02-18","v":34.4},{"d":"2026-02-19","v":31.9},{"d":"2026-02-20","v":34.1},{"d":"2026-02-22","v":29.8},{"d":"2026-02-23","v":27.6},{"d":"2026-02-24","v":27.3},{"d":"2026-02-25","v":30.1},{"d":"2026-02-26","v":32.9},{"d":"2026-02-27","v":25.1},{"d":"2026-03-01","v":26.0},{"d":"2026-03-02","v":25.7},{"d":"2026-03-03","v":26.6},{"d":"2026-03-04","v":25.7},{"d":"2026-03-06","v":21.3},{"d":"2026-03-09","v":21.0}
 ]},
 "mark": {"type": "line", "strokeWidth": 4.5, "strokeJoin": "round", "strokeCap": "round"},
 "encoding": {
  "x": {"field": "d", "type": "temporal", "scale": {"type": "utc", "domain": [{"year": 2024, "month": 11, "date": 22, "hours": 6, "minutes": 14, "utc": true}, {"year": 2026, "month": 3, "date": 17, "hours": 19, "minutes": 26, "utc": true}], "nice": false}},
  "y": {"field": "v", "type": "quantitative", "scale": {"domain": [-95.74, 103.9], "nice": false, "zero": false}},
  "color": {"datum": "Invesco-KBW銀行業ETF[KBWB]", "type": "nominal", "scale": {"domain": ["美國-S&P 500", "美國-費城半導體指數", "美國-S&P 500-軟體及服務類股", "Invesco-KBW銀行業ETF[KBWB]"], "range": ["#3BAFDF", "#E9573F", "#F7B93F", "#6CC763"]}}
 }},
{"data": {"values": [{"t": "美股 2025/1/1 以來累積報酬率"}]},
 "mark": {"type": "text", "align": "center", "baseline": "middle", "font": "Noto Sans CJK TC", "fontSize": 48, "fontWeight": "bold", "color": "#333333"},
 "encoding": {
  "x": {"datum": {"year": 2025, "month": 7, "date": 19, "hours": 16, "utc": true}, "type": "temporal", "scale": {"type": "utc", "domain": [{"year": 2024, "month": 11, "date": 22, "hours": 6, "minutes": 14, "utc": true}, {"year": 2026, "month": 3, "date": 17, "hours": 19, "minutes": 26, "utc": true}], "nice": false}},
  "y": {"datum": 95.76, "type": "quantitative", "scale": {"domain": [-95.74, 103.9], "nice": false, "zero": false}},
  "text": {"field": "t"}
 }},
{"data": {"values": [{"t": "MacroMicro.me | MacroMicro"}]},
 "mark": {"type": "text", "align": "center", "baseline": "middle", "font": "Open Sans", "fontSize": 35, "color": "#6A6A6A"},
 "encoding": {
  "x": {"datum": {"year": 2025, "month": 7, "date": 20, "hours": 4, "utc": true}, "type": "temporal", "scale": {"type": "utc", "domain": [{"year": 2024, "month": 11, "date": 22, "hours": 6, "minutes": 14, "utc": true}, {"year": 2026, "month": 3, "date": 17, "hours": 19, "minutes": 26, "utc": true}], "nice": false}},
  "y": {"datum": 84.28, "type": "quantitative", "scale": {"domain": [-95.74, 103.9], "nice": false, "zero": false}},
  "text": {"field": "t"}
 }}
]
}
